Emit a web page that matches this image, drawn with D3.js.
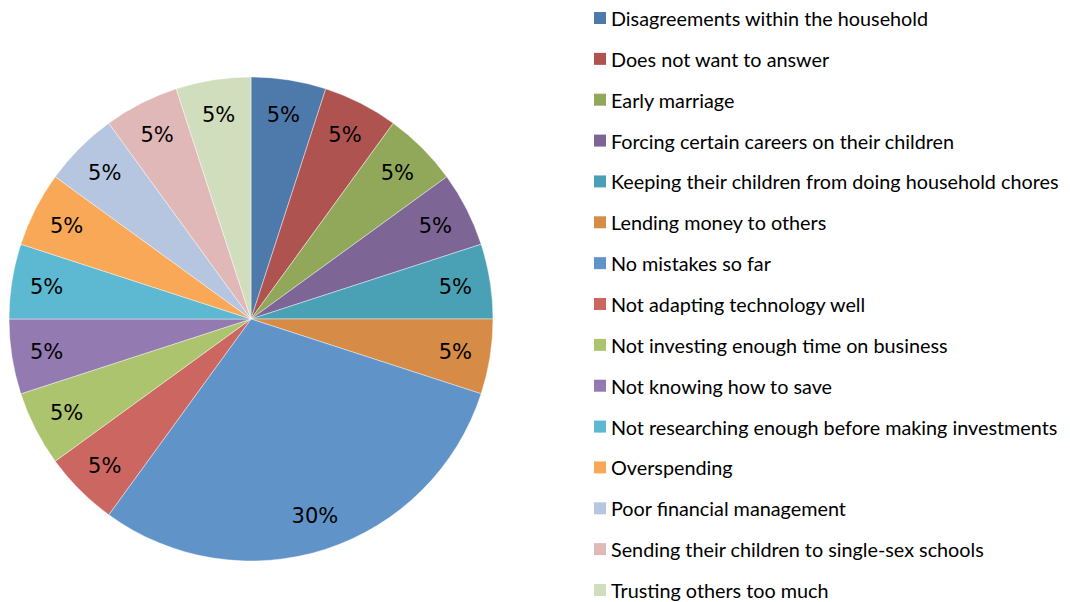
<!DOCTYPE html>
<html><head><meta charset="utf-8">
<script src="https://cdn.jsdelivr.net/npm/d3@7"></script>
<style>body{margin:0;background:#fff}svg{display:block}</style>
</head><body>
<svg id="c" width="1070" height="602"></svg>
<script>
const categories = [
  "Disagreements within the household",
  "Does not want to answer",
  "Early marriage",
  "Forcing certain careers on their children",
  "Keeping their children from doing household chores",
  "Lending money to others",
  "No mistakes so far",
  "Not adapting technology well",
  "Not investing enough time on business",
  "Not knowing how to save",
  "Not researching enough before making investments",
  "Overspending",
  "Poor financial management",
  "Sending their children to single-sex schools",
  "Trusting others too much"
];
const values = [5,5,5,5,5,5,30,5,5,5,5,5,5,5,5];
const colors = ["#4E7AAB","#AE5350","#91A85B","#7D6596","#4AA0B4","#D68B46",
  "#6094C9","#CC6661","#ABC46D","#937AB0","#5CB9D1","#F8A857",
  "#B7C6E0","#E0B8B7","#D1DEBD"];

const svg = d3.select("#c");
const cx = 251, cy = 319, r = 242;
const g = svg.append("g").attr("transform", `translate(${cx},${cy})`);
const pie = d3.pie().sort(null).value(d => d);
const arcs = pie(values);
const arc = d3.arc().innerRadius(0).outerRadius(r);
const labelArc = d3.arc().innerRadius(r*0.855).outerRadius(r*0.855);
const color = d3.scaleOrdinal().domain(d3.range(categories.length)).range(colors);

g.selectAll("path").data(arcs).enter().append("path")
  .attr("d", arc).attr("fill", (d,i) => color(i))
  .attr("stroke", "rgba(255,255,255,0.6)").attr("stroke-width", 0.7);

const total = d3.sum(values);
g.selectAll("text.lbl").data(arcs).enter().append("text")
  .attr("class","lbl")
  .attr("transform", d => `translate(${labelArc.centroid(d)})`)
  .attr("text-anchor","middle").attr("dy","0.36em")
  .attr("font-family","DejaVu Sans, sans-serif").attr("font-size", 21)
  .attr("fill","#000")
  .text(d => Math.round(d.data/total*100) + "%");

const y = d3.scalePoint().domain(categories).range([19, 591]);
const leg = svg.append("g");
const items = leg.selectAll("g").data(categories).enter().append("g")
  .attr("transform", d => `translate(594,${y(d)})`);
items.append("rect").attr("x",0).attr("y",-7).attr("width",12).attr("height",12)
  .attr("fill",(d,i)=>color(i));
items.append("text").attr("x",17).attr("y",0).attr("dy","0.35em")
  .attr("font-family","Lato, sans-serif").attr("font-size",19.8).attr("fill","#000")
  .text(d=>d);
</script>
</body></html>
